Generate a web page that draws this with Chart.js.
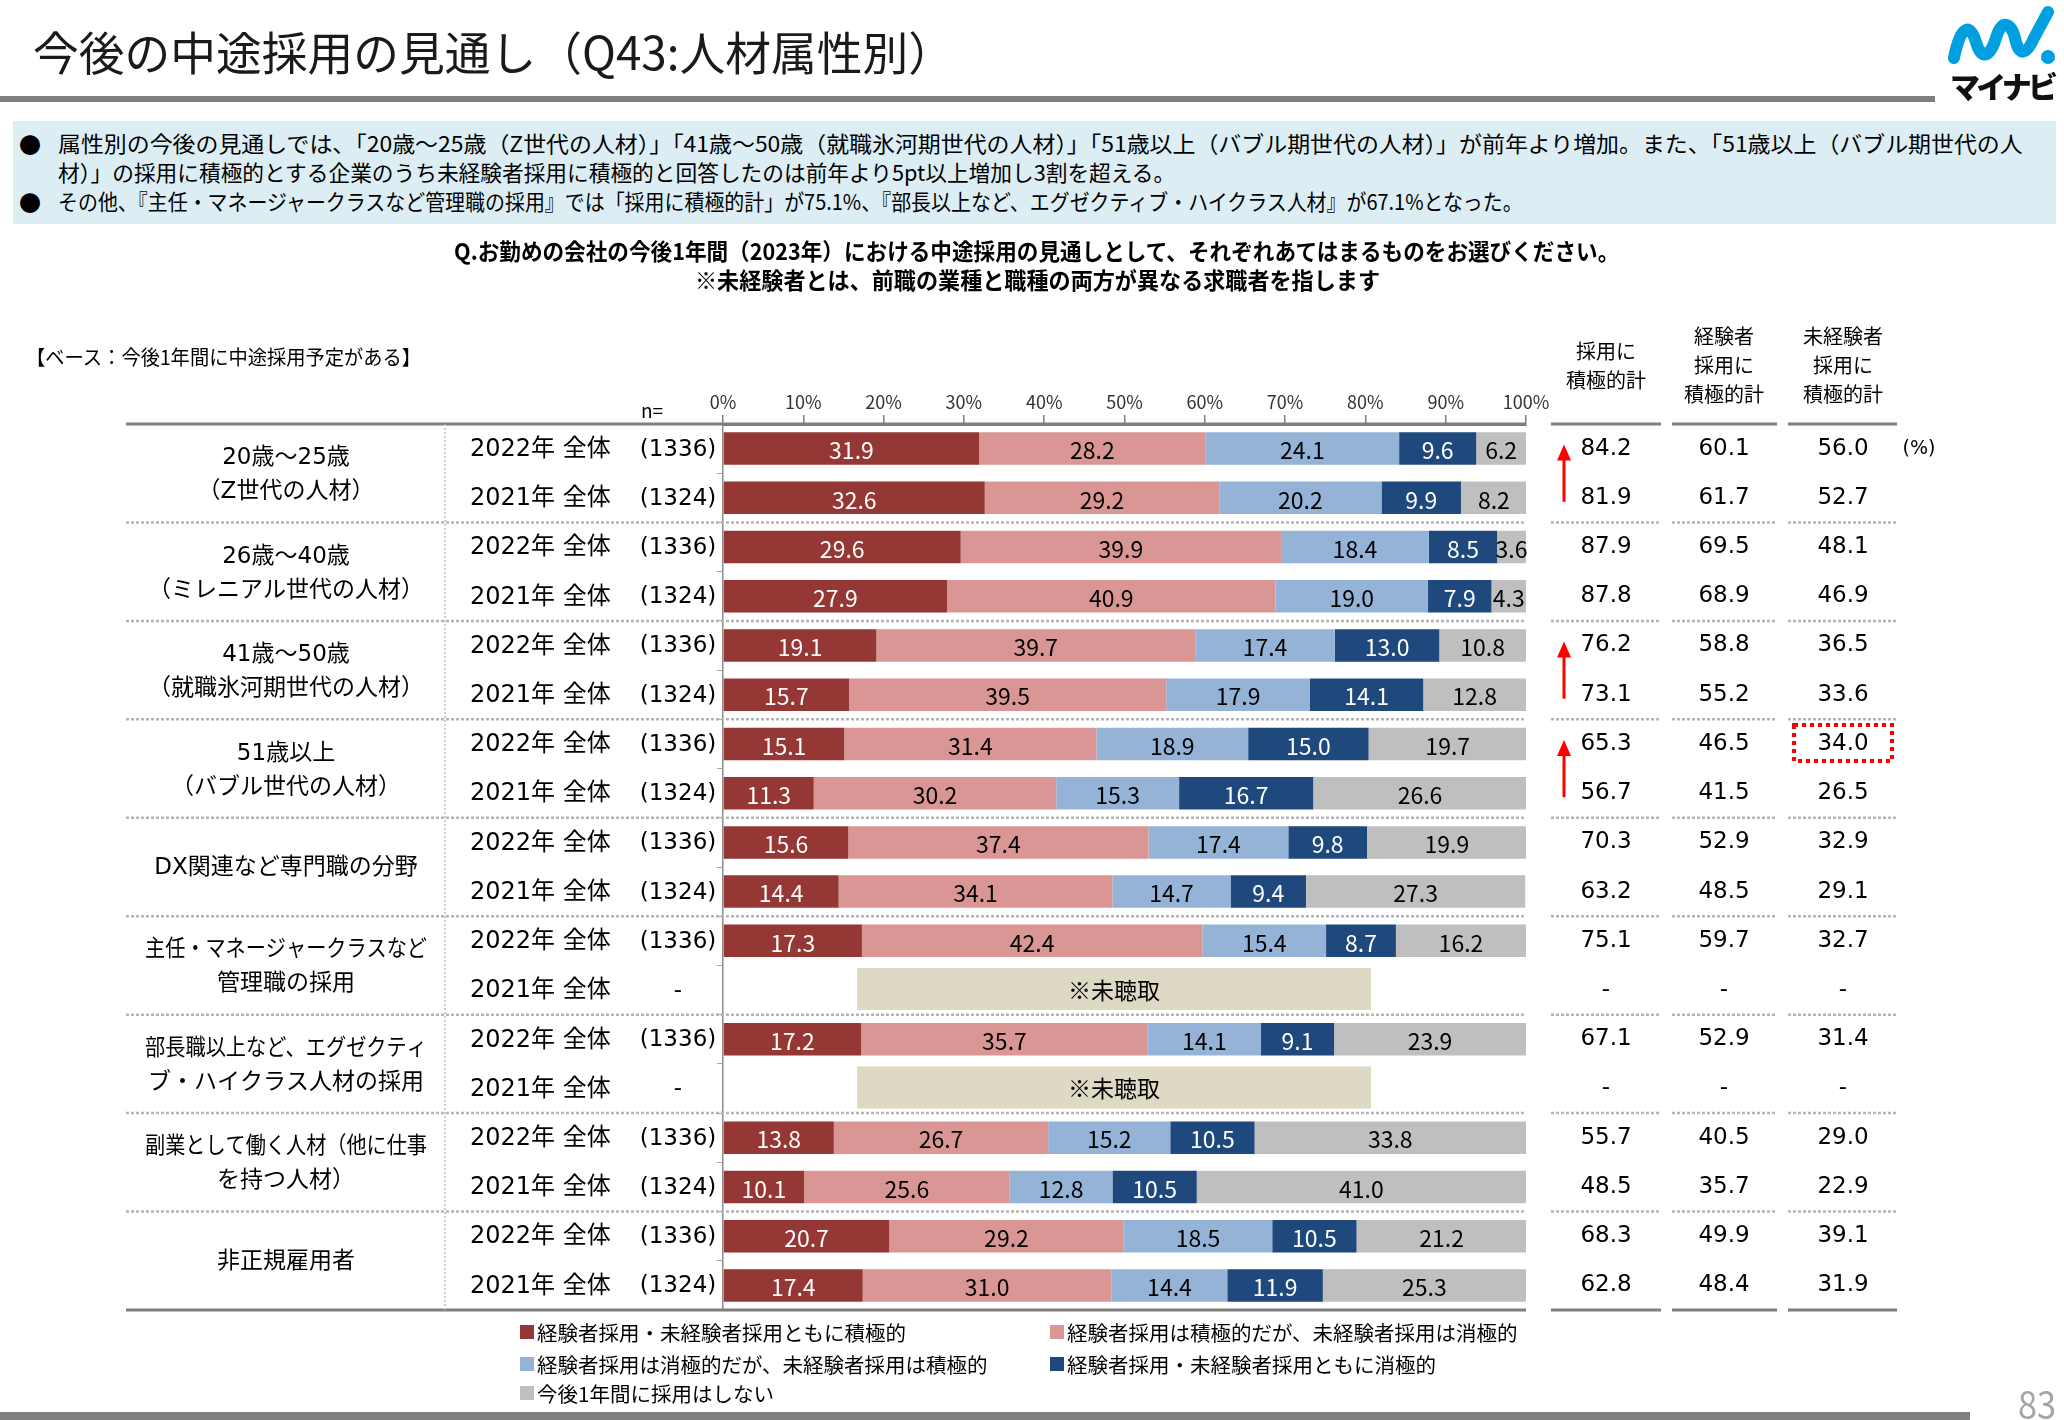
<!DOCTYPE html>
<html lang="ja">
<head>
<meta charset="utf-8">
<title>今後の中途採用の見通し（Q43:人材属性別）</title>
<script src="https://cdn.jsdelivr.net/npm/chart.js@4.4.0/dist/chart.umd.min.js"></script>
<style>
  html, body { margin: 0; padding: 0; background: #fff; }
  body { width: 2064px; height: 1420px; position: relative; overflow: hidden;
         font-family: "Noto Sans CJK JP", "Noto Sans", sans-serif; color: #000; }
  #grafico { position: absolute; left: 0; top: 0; }
  .t { position: absolute; white-space: nowrap; line-height: 1; transform-origin: 0 50%; }
  .box { position: absolute; }
</style>
</head>
<body>
<canvas id="grafico" width="2064" height="1420"></canvas>

<div class="t fit" data-w="921" style="left:33px; top:27px; font-size:46px; color:#1a1a1a;">今後の中途採用の見通し（Q43:人材属性別）</div>
<div class="box" style="left:0; top:96px; width:1935px; height:6px; background:#7f7f7f;"></div>
<svg class="box" style="left:1944px; top:4px;" width="118" height="98" viewBox="0 0 118 98">
  <path d="M10 54 C 16 22, 26 18, 32 38 C 37 56, 46 54, 52 34 C 58 14, 68 18, 72 38 C 76 54, 84 48, 90 34 L 104 8" fill="none" stroke="#00A0E0" stroke-width="12" stroke-linecap="round" stroke-linejoin="round"/>
  <circle cx="104" cy="53" r="7" fill="#00A0E0"/>
  <text x="6" y="94" textLength="108" font-family="Noto Sans CJK JP" font-weight="900" font-size="30" fill="#111">マイナビ</text>
</svg>

<div class="box" style="left:13px; top:121px; width:2043px; height:103px; background:#dceef4;"></div>
<div class="t" style="left:19px; top:132px; font-size:22px;">●</div>
<div class="t fit" data-w="1965" style="left:58px; top:131px; font-size:22px;">属性別の今後の見通しでは、「20歳～25歳（Z世代の人材）」「41歳～50歳（就職氷河期世代の人材）」「51歳以上（バブル期世代の人材）」が前年より増加。また、「51歳以上（バブル期世代の人</div>
<div class="t fit" data-w="1117" style="left:58px; top:160px; font-size:22px;">材）」の採用に積極的とする企業のうち未経験者採用に積極的と回答したのは前年より5pt以上増加し3割を超える。</div>
<div class="t" style="left:19px; top:190px; font-size:22px;">●</div>
<div class="t fit" data-w="1465" style="left:58px; top:189px; font-size:22px;">その他、『主任・マネージャークラスなど管理職の採用』では「採用に積極的計」が75.1%、『部長以上など、エグゼクティブ・ハイクラス人材』が67.1%となった。</div>

<div class="t fit" data-w="1165" style="left:454px; top:239px; font-size:23px; font-weight:bold;">Q.お勤めの会社の今後1年間（2023年）における中途採用の見通しとして、それぞれあてはまるものをお選びください。</div>
<div class="t fit" data-w="685" style="left:695px; top:268px; font-size:23px; font-weight:bold;">※未経験者とは、前職の業種と職種の両方が異なる求職者を指します</div>
<div class="t fit" data-w="395" style="left:26px; top:347px; font-size:20px;">【ベース：今後1年間に中途採用予定がある】</div>

<div class="box" style="left:0; top:1412px; width:1970px; height:8px; background:#7f7f7f;"></div>
<div class="t fit" data-w="38" style="left:2018px; top:1384px; font-size:38px; color:#a6a6a6;">83</div>

<script>
// 行ラベル
const groups = [
  ['20歳～25歳', '（Z世代の人材）'],
  ['26歳～40歳', '（ミレニアル世代の人材）'],
  ['41歳～50歳', '（就職氷河期世代の人材）'],
  ['51歳以上', '（バブル世代の人材）'],
  ['DX関連など専門職の分野'],
  ['主任・マネージャークラスなど', '管理職の採用'],
  ['部長職以上など、エグゼクティ', 'ブ・ハイクラス人材の採用'],
  ['副業として働く人材（他に仕事', 'を持つ人材）'],
  ['非正規雇用者']
];
const years = ['2022年 全体', '2021年 全体'];
const nLabels = ['(1336)', '(1324)', '(1336)', '(1324)', '(1336)', '(1324)', '(1336)', '(1324)',
  '(1336)', '(1324)', '(1336)', '-', '(1336)', '-', '(1336)', '(1324)', '(1336)', '(1324)'];
const categories = groups.flatMap(g => years.map(y => g[0] + ' ' + y));

// 系列
const seriesNames = [
  '経験者採用・未経験者採用ともに積極的',
  '経験者採用は積極的だが、未経験者採用は消極的',
  '経験者採用は消極的だが、未経験者採用は積極的',
  '経験者採用・未経験者採用ともに消極的',
  '今後1年間に採用はしない'
];
const bothPositive = [31.9, 32.6, 29.6, 27.9, 19.1, 15.7, 15.1, 11.3, 15.6, 14.4, 17.3, null, 17.2, null, 13.8, 10.1, 20.7, 17.4];
const expOnly = [28.2, 29.2, 39.9, 40.9, 39.7, 39.5, 31.4, 30.2, 37.4, 34.1, 42.4, null, 35.7, null, 26.7, 25.6, 29.2, 31.0];
const inexpOnly = [24.1, 20.2, 18.4, 19.0, 17.4, 17.9, 18.9, 15.3, 17.4, 14.7, 15.4, null, 14.1, null, 15.2, 12.8, 18.5, 14.4];
const bothNegative = [9.6, 9.9, 8.5, 7.9, 13.0, 14.1, 15.0, 16.7, 9.8, 9.4, 8.7, null, 9.1, null, 10.5, 10.5, 10.5, 11.9];
const noHiring = [6.2, 8.2, 3.6, 4.3, 10.8, 12.8, 19.7, 26.6, 19.9, 27.3, 16.2, null, 23.9, null, 33.8, 41.0, 21.2, 25.3];

// 右側の集計
const totalHeaders = [['採用に', '積極的計'], ['経験者', '採用に', '積極的計'], ['未経験者', '採用に', '積極的計']];
const totalPositive = [84.2, 81.9, 87.9, 87.8, 76.2, 73.1, 65.3, 56.7, 70.3, 63.2, 75.1, null, 67.1, null, 55.7, 48.5, 68.3, 62.8];
const totalExp = [60.1, 61.7, 69.5, 68.9, 58.8, 55.2, 46.5, 41.5, 52.9, 48.5, 59.7, null, 52.9, null, 40.5, 35.7, 49.9, 48.4];
const totalInexp = [56.0, 52.7, 48.1, 46.9, 36.5, 33.6, 34.0, 26.5, 32.9, 29.1, 32.7, null, 31.4, null, 29.0, 22.9, 39.1, 31.9];
const arrowGroups = [0, 2, 3];
const highlightRow = 6;           // 34.0 に赤点線
const notAskedRows = [11, 13];
const notAskedRange = [16.7, 80.7];
const xTicks = [0, 10, 20, 30, 40, 50, 60, 70, 80, 90, 100];

const colors = ['#953735', '#d99694', '#95b3d7', '#1f497d', '#bfbfbf'];
const labelColors = ['#fff', '#000', '#000', '#fff', '#000'];
const JP = '"Noto Sans CJK JP", "Noto Sans", sans-serif';
const NUM = '"DejaVu Sans", "Noto Sans CJK JP", sans-serif';

const GROUP_X = 286, DIV_X = 445, YEAR_X = 470, N_X = 678, TABLE_LEFT = 126;
const COL_X = [1606, 1724, 1843];
const COL_SEG = [[1551, 1661], [1672, 1777], [1788, 1897]];

document.querySelectorAll('.fit').forEach(el => {
  el.style.transform = 'scaleX(' + (+el.dataset.w / el.scrollWidth) + ')';
});

const tablePlugin = {
  id: 'tablePlugin',
  beforeDatasetsDraw(chart) {
    const { ctx, scales: { x, y } } = chart;
    ctx.save();
    notAskedRows.forEach(r => {
      const cy = y.getPixelForValue(r);
      const x0 = x.getPixelForValue(notAskedRange[0]), x1 = x.getPixelForValue(notAskedRange[1]);
      ctx.fillStyle = '#ddd9c4';
      ctx.fillRect(x0, cy - 22, x1 - x0, 42);
      ctx.fillStyle = '#000';
      ctx.font = '23px ' + JP;
      ctx.textAlign = 'center';
      ctx.textBaseline = 'middle';
      ctx.fillText('※未聴取', (x0 + x1) / 2, cy);
    });
    ctx.restore();
  },
  afterDatasetsDraw(chart) {
    const ctx = chart.ctx;
    ctx.save();
    ctx.font = '23px ' + JP;
    ctx.textAlign = 'center';
    ctx.textBaseline = 'middle';
    chart.data.datasets.forEach((ds, di) => {
      chart.getDatasetMeta(di).data.forEach((bar, i) => {
        const v = ds.data[i];
        if (v == null) return;
        const p = bar.getProps(['x', 'base', 'y'], true);
        ctx.fillStyle = labelColors[di];
        ctx.fillText(v.toFixed(1), (p.x + p.base) / 2, p.y + 2);
      });
    });
    ctx.restore();
  },
  afterDraw(chart) {
    const { ctx, chartArea: area, scales: { x, y } } = chart;
    const rowY = i => y.getPixelForValue(i);
    ctx.save();

    // 罫線
    const hline = (x0, x1, yy, color, w, dash) => {
      ctx.beginPath();
      ctx.setLineDash(dash || []);
      ctx.strokeStyle = color;
      ctx.lineWidth = w;
      ctx.moveTo(x0, yy);
      ctx.lineTo(x1, yy);
      ctx.stroke();
    };
    [area.top, area.bottom].forEach(yy => {
      hline(TABLE_LEFT, area.right, yy, '#7f7f7f', 3);
      COL_SEG.forEach(s => hline(s[0], s[1], yy, '#7f7f7f', 3));
    });
    for (let g = 1; g < groups.length; g++) {
      const yy = (rowY(2 * g - 1) + rowY(2 * g)) / 2;
      hline(TABLE_LEFT, area.right, yy, '#b5b5b5', 2.5, [3, 2]);
      COL_SEG.forEach(s => hline(s[0], s[1], yy, '#b5b5b5', 2.5, [3, 2]));
    }
    ctx.beginPath();
    ctx.setLineDash([2, 2]);
    ctx.strokeStyle = '#bdbdbd';
    ctx.lineWidth = 1.5;
    ctx.moveTo(DIV_X, area.top);
    ctx.lineTo(DIV_X, area.bottom);
    ctx.stroke();
    ctx.setLineDash([]);

    // 左側ラベル
    ctx.fillStyle = '#000';
    ctx.textBaseline = 'middle';
    groups.forEach((g, gi) => {
      const cy = (rowY(2 * gi) + rowY(2 * gi + 1)) / 2;
      ctx.font = '23px ' + NUM;
      ctx.textAlign = 'center';
      if (g.length === 1) {
        ctx.fillText(g[0], GROUP_X, cy + 1, 300);
      } else {
        ctx.fillText(g[0], GROUP_X, cy - 15, 282);
        ctx.fillText(g[1], GROUP_X, cy + 19, 282);
      }
    });
    categories.forEach((c, i) => {
      const cy = rowY(i);
      ctx.font = '24px ' + NUM;
      ctx.textAlign = 'left';
      ctx.fillText(years[i % 2], YEAR_X, cy + 1);
      ctx.font = '23px ' + NUM;
      ctx.textAlign = 'center';
      ctx.fillText(nLabels[i], N_X, cy + 1);
    });
    ctx.font = '19px ' + JP;
    ctx.textAlign = 'center';
    ctx.fillText('n=', 652, 411);

    // 右側の集計列
    ctx.font = '20px ' + JP;
    totalHeaders.forEach((h, hi) => {
      const top = h.length === 2 ? 351 : 336;
      h.forEach((t, li) => ctx.fillText(t, COL_X[hi], top + li * 29));
    });
    ctx.font = '23px ' + NUM;
    [totalPositive, totalExp, totalInexp].forEach((col, ci) => {
      col.forEach((v, i) => {
        ctx.fillText(v == null ? '-' : v.toFixed(1), COL_X[ci], rowY(i));
      });
    });
    ctx.font = '19px ' + NUM;
    ctx.fillText('(%)', 1919, 449);

    // 矢印
    ctx.strokeStyle = '#ff0000';
    ctx.fillStyle = '#ff0000';
    ctx.lineWidth = 3;
    arrowGroups.forEach(g => {
      const tip = rowY(2 * g) - 4, tail = rowY(2 * g + 1) + 4;
      ctx.beginPath();
      ctx.moveTo(1564, tail);
      ctx.lineTo(1564, tip + 12);
      ctx.stroke();
      ctx.beginPath();
      ctx.moveTo(1564, tip);
      ctx.lineTo(1557, tip + 16);
      ctx.lineTo(1571, tip + 16);
      ctx.closePath();
      ctx.fill();
    });
    const hy = rowY(highlightRow);
    ctx.setLineDash([4, 4]);
    ctx.lineWidth = 4;
    ctx.strokeRect(1794, hy - 19, 98, 36);
    ctx.setLineDash([]);

    // 凡例
    const legendPos = [[520, 1332], [1050, 1332], [520, 1364], [1050, 1364], [520, 1393]];
    ctx.font = '20.5px ' + JP;
    ctx.textAlign = 'left';
    seriesNames.forEach((name, i) => {
      const [lx, ly] = legendPos[i];
      ctx.fillStyle = colors[i];
      ctx.fillRect(lx, ly - 7, 14, 14);
      ctx.fillStyle = '#000';
      ctx.fillText(name, lx + 17, ly + 1);
    });
    ctx.restore();
  }
};

new Chart(document.getElementById('grafico').getContext('2d'), {
  type: 'bar',
  data: {
    labels: categories,
    datasets: [bothPositive, expOnly, inexpOnly, bothNegative, noHiring].map((d, i) => ({
      label: seriesNames[i],
      data: d,
      backgroundColor: colors[i],
      borderWidth: 0,
      barPercentage: 0.66,
      categoryPercentage: 1
    }))
  },
  options: {
    indexAxis: 'y',
    responsive: false,
    animation: false,
    devicePixelRatio: 1,
    layout: { padding: { left: 717, right: 538, top: 394, bottom: 110 } },
    plugins: { legend: { display: false }, tooltip: { enabled: false } },
    scales: {
      x: {
        position: 'top', stacked: true, min: 0, max: 100,
        afterBuildTicks: s => { s.ticks = xTicks.map(v => ({ value: v })); },
        ticks: { callback: v => v + '%', font: { size: 18, family: JP }, color: '#333', padding: 2, maxRotation: 0 },
        grid: { drawOnChartArea: false, tickLength: 9, color: '#7f7f7f', lineWidth: 1.5 },
        border: { color: '#7f7f7f', width: 3 },
        afterFit: s => { s.height = 30; }
      },
      y: {
        stacked: true,
        ticks: { display: false },
        grid: { drawOnChartArea: false, tickLength: 6, color: '#a6a6a6', offset: true },
        border: { color: '#8c8c8c', width: 1.5 }
      }
    }
  },
  plugins: [tablePlugin]
});
</script>
</body>
</html>
